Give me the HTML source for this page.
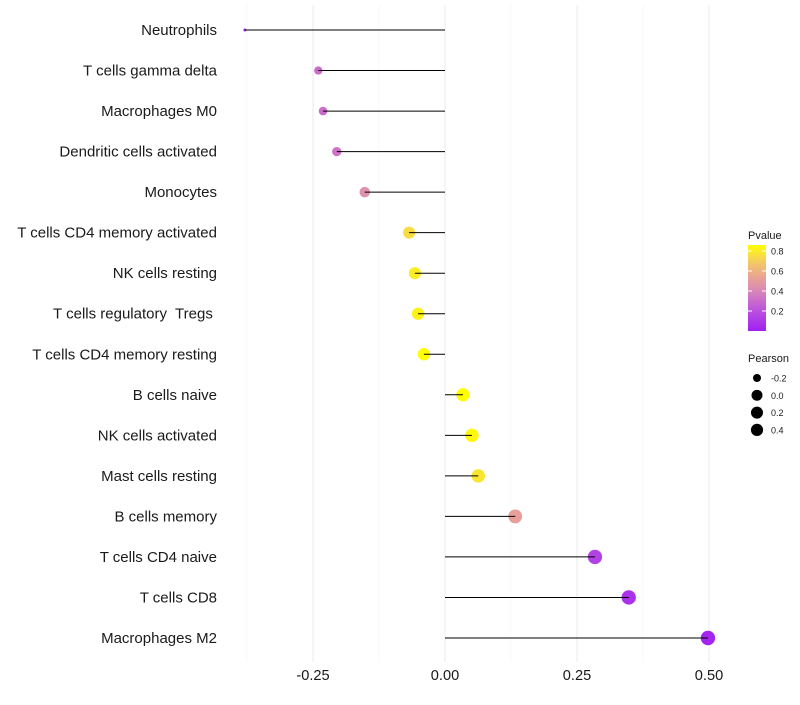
<!DOCTYPE html>
<html><head><meta charset="utf-8"><style>
body{margin:0;background:#fff;font-family:"Liberation Sans",sans-serif}
</style></head><body>
<svg id="chart" width="800" height="700" xmlns="http://www.w3.org/2000/svg" font-family="Liberation Sans, sans-serif"></svg>
<script>
const categories=["Neutrophils","T cells gamma delta","Macrophages M0","Dendritic cells activated","Monocytes","T cells CD4 memory activated","NK cells resting","T cells regulatory  Tregs ","T cells CD4 memory resting","B cells naive","NK cells activated","Mast cells resting","B cells memory","T cells CD4 naive","T cells CD8","Macrophages M2"];
const pearson=[-0.379,-0.240,-0.231,-0.205,-0.152,-0.068,-0.057,-0.051,-0.040,0.034,0.051,0.063,0.133,0.284,0.348,0.498];
const pvalues=[0.05,0.3,0.3,0.32,0.45,0.75,0.8,0.82,0.86,0.86,0.84,0.78,0.52,0.14,0.08,0.02];
const xTicks=[-0.25,0,0.25,0.5];
const xTickLabels=["-0.25","0.00","0.25","0.50"];
const colorTicks=[0.2,0.4,0.6,0.8];
const sizeTicks=[-0.2,0,0.2,0.4];
const NS="http://www.w3.org/2000/svg";
const svg=document.getElementById('chart');
function el(t,a,p){const e=document.createElementNS(NS,t);for(const k in a)e.setAttribute(k,a[k]);(p||svg).appendChild(e);return e;}
const x=v=>445+v*528;
const y=i=>30+i*(608/15);
const r=v=>7.2-5.7*Math.pow(Math.max(0,(0.5-v)/0.88),3.6);
const stops=[[0,[160,32,240]],[0.2,[186,80,224]],[0.4,[216,136,184]],[0.55,[235,165,145]],[0.7,[245,204,96]],[0.86,[255,255,0]]];
function col(p){p=Math.min(0.86,Math.max(0,p));for(let i=1;i<stops.length;i++){if(p<=stops[i][0]){const a=stops[i-1],b=stops[i];const t=(p-a[0])/(b[0]-a[0]);
 return 'rgb('+a[1].map((c,j)=>Math.round(c+(b[1][j]-c)*t)).join(',')+')';}}return 'rgb(255,255,0)';}
for(let k=-3;k<=4;k++){const v=k*0.125;const major=k%2===0;const g=el('line',{x1:x(v),x2:x(v),y1:5,y2:662,stroke:major?'#ebebeb':'#f3f3f3','stroke-width':major?1:0.6});
}
categories.forEach((c,i)=>{
 const t=el('text',{x:217,y:y(i)+5,'text-anchor':'end','font-size':15,fill:'#1a1a1a','xml:space':'preserve'});t.style.whiteSpace='pre';t.textContent=c;
 
 const d=el('circle',{cx:x(pearson[i]),cy:y(i),r:r(pearson[i]),fill:col(pvalues[i])});
 
 const l=el('line',{x1:x(0),x2:x(pearson[i]),y1:y(i),y2:y(i),stroke:'#000','stroke-width':1});
 
});
xTicks.forEach((v,i)=>{const t=el('text',{x:x(v),y:680,'text-anchor':'middle','font-size':14.6,fill:'#1a1a1a'});t.textContent=xTickLabels[i];
});
const lt=el('text',{x:748,y:239,'font-size':11,fill:'#1a1a1a'});lt.textContent='Pvalue';

const defs=el('defs',{});const gr=el('linearGradient',{id:'pg',x1:0,y1:1,x2:0,y2:0},defs);
[0,0.1,0.2,0.3,0.4,0.5,0.6,0.7,0.8,0.9,1].forEach(o=>el('stop',{offset:o,'stop-color':col(o*0.86)},gr));
const cb=el('rect',{x:748,y:245,width:18,height:86,fill:'url(#pg)'});

colorTicks.forEach(v=>{const yy=331-v*100;el('line',{x1:748,x2:752,y1:yy,y2:yy,stroke:'#fff'});el('line',{x1:762,x2:766,y1:yy,y2:yy,stroke:'#fff'});
const t=el('text',{x:771,y:yy+3.5,'font-size':9,fill:'#1a1a1a'});t.textContent=v.toFixed(1);
});
const st=el('text',{x:748,y:362,'font-size':11,fill:'#1a1a1a'});st.textContent='Pearson';

sizeTicks.forEach((v,i)=>{const yy=378+i*17.3;const c=el('circle',{cx:757,cy:yy,r:r(v)*0.85,fill:'#000'});

const t=el('text',{x:771,y:yy+3.5,'font-size':9,fill:'#1a1a1a'});t.textContent=v.toFixed(1);
});
</script>
</body></html>
